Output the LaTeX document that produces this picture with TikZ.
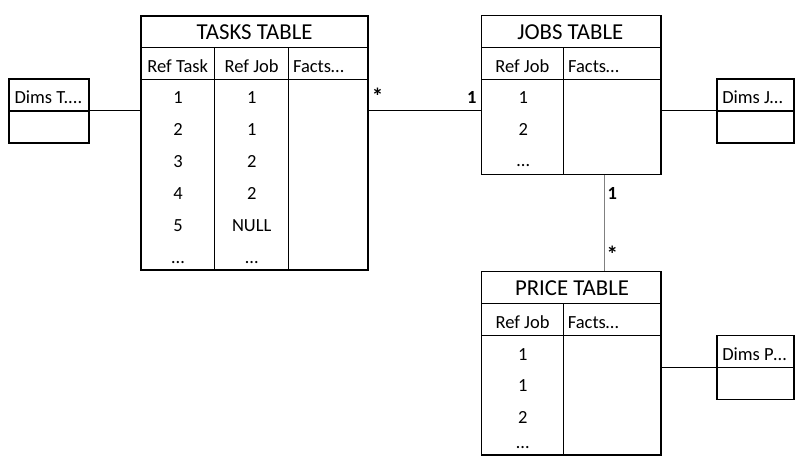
\documentclass[tikz,border=0pt]{standalone}
\usepackage{fontspec}
\setmainfont{Carlito}
\begin{document}
\begin{tikzpicture}[x=1pt,y=-1pt, line width=1.1pt,
  tbl/.style={draw, rectangle, inner sep=0pt, line width=1.1pt},
  cell/.style={inner sep=0pt, anchor=base, font=\fontsize{18.5}{20}\selectfont},
  lcell/.style={inner sep=0pt, anchor=base west, font=\fontsize{18.5}{20}\selectfont},
  ttl/.style={inner sep=0pt, anchor=base, font=\fontsize{22.8}{24}\selectfont},
  card/.style={inner sep=0pt, font=\fontsize{18.5}{20}\selectfont\bfseries},
  star/.style={inner sep=0pt, font=\fontsize{23}{24}\selectfont\bfseries},
  link/.style={draw=black, line width=1pt},
  glink/.style={draw=gray, line width=1.6pt}]
\useasboundingbox (0,0) rectangle (804,465);

% ---------- TASKS TABLE ----------
\node[tbl, minimum width=227pt, minimum height=254pt] (tasks) at (254.5,143) {};
\draw (141,47.5) -- (368,47.5);
\draw (141,79.5) -- (368,79.5);
\draw (214.3,47.5) -- (214.3,270);
\draw (288.3,47.5) -- (288.3,270);
\node[ttl] (tasksT) at (254.5,40) {TASKS TABLE};
\node[cell] (th1) at (177.8,72.7) {Ref Task};
\node[cell] (th2) at (251.7,72.7) {Ref Job};
\node[lcell] (th3) at (292.5,72.7) {Facts…};
\node[cell] (t11) at (178,104) {1};   \node[cell] (t12) at (251.7,104) {1};
\node[cell] (t21) at (178,136) {2};   \node[cell] (t22) at (251.7,136) {1};
\node[cell] (t31) at (178,168) {3};   \node[cell] (t32) at (251.7,168) {2};
\node[cell] (t41) at (178,200) {4};   \node[cell] (t42) at (251.7,200) {2};
\node[cell] (t51) at (178,232) {5};   \node[cell] (t52) at (251.7,232) {NULL};
\node[cell] (t61) at (178,264) {…};   \node[cell] (t62) at (251.7,264) {…};

% ---------- JOBS TABLE ----------
\node[tbl, minimum width=179.3pt, minimum height=159.3pt] (jobs) at (571.3,95.3) {};
\draw (481.7,47.3) -- (661,47.3);
\draw (481.7,79.3) -- (661,79.3);
\draw (563.3,47.3) -- (563.3,175);
\node[ttl] (jobsT) at (570.3,40) {JOBS TABLE};
\node[cell] (jh1) at (522.3,72.7) {Ref Job};
\node[lcell] (jh2) at (567.5,72.7) {Facts…};
\node[cell] (j1) at (523.3,104) {1};
\node[cell] (j2) at (523.3,136) {2};
\node[cell] (j3) at (523.3,167) {…};

% ---------- PRICE TABLE ----------
\node[tbl, minimum width=179.3pt, minimum height=183.3pt] (price) at (571.3,363.3) {};
\draw (481.7,303.3) -- (661,303.3);
\draw (481.7,335.3) -- (661,335.3);
\draw (563.3,303.3) -- (563.3,455);
\node[ttl] (priceT) at (572,295.7) {PRICE TABLE};
\node[cell] (ph1) at (522.5,328.3) {Ref Job};
\node[lcell] (ph2) at (567.3,328.3) {Facts…};
\node[cell] (p1) at (522.7,360) {1};
\node[cell] (p2) at (522.7,391.7) {1};
\node[cell] (p3) at (522.7,423.3) {2};
\node[cell] (p4) at (522.7,448.3) {…};

% ---------- DIMENSION BOXES ----------
\node[tbl, minimum width=80pt, minimum height=64pt] (dimsT) at (49,111) {};
\draw (dimsT.west) -- (dimsT.east);
\node[lcell] (dimsTt) at (14,103.3) {Dims T....};

\node[tbl, minimum width=77pt, minimum height=64pt] (dimsJ) at (755.5,111) {};
\draw (dimsJ.west) -- (dimsJ.east);
\node[lcell] (dimsJt) at (721.7,103.3) {Dims J…};

\node[tbl, minimum width=77pt, minimum height=63.5pt] (dimsP) at (755.5,367.3) {};
\draw (dimsP.west) -- (dimsP.east);
\node[lcell] (dimsPt) at (721.7,360) {Dims P…};

% ---------- CONNECTORS ----------
\draw[link] (dimsT.east) -- (tasks.west |- dimsT.east);
\draw[link] (tasks.east |- dimsT.east) -- (jobs.west |- dimsT.east);
\draw[link] (jobs.east |- dimsJ.west) -- (dimsJ.west);
\draw[link] (price.east |- dimsP.west) -- (dimsP.west);
\coordinate (vtop) at (604.3,175);
\draw[glink] (vtop) -- (vtop |- price.north);

% ---------- CARDINALITIES ----------
\node[star] (c1) at (377.7,96) {*};
\node[card, anchor=base] (c2) at (471.7,103.3) {1};
\node[card, anchor=base] (c3) at (612.3,200) {1};
\node[star] (c4) at (612.3,254) {*};
\end{tikzpicture}
\end{document}
